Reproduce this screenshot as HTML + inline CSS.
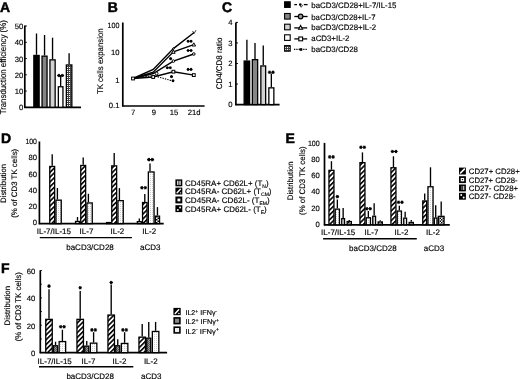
<!DOCTYPE html><html><head><meta charset="utf-8"><style>
html,body{margin:0;padding:0;background:#fff;}
svg{display:block;will-change:transform;filter:blur(0.3px);}
text{text-rendering:geometricPrecision;font-family:"Liberation Sans", sans-serif;fill:#000;}
</style></head><body>
<svg width="520" height="379" viewBox="0 0 520 379">
<defs>
<pattern id="hatch" width="3.4" height="3.4" patternUnits="userSpaceOnUse" patternTransform="rotate(45)">
<rect width="3.4" height="3.4" fill="#fff"/><rect x="0" y="0" width="1.6" height="3.4" fill="#000"/></pattern>
<pattern id="dots" width="2" height="2" patternUnits="userSpaceOnUse">
<rect width="2" height="2" fill="#fff"/><rect x="0" y="0" width="1" height="1" fill="#ccc"/></pattern>
<pattern id="vlines" width="2.5" height="2.5" patternUnits="userSpaceOnUse">
<rect width="2.5" height="2.5" fill="#fff"/><rect x="1" y="0" width="0.8" height="2.5" fill="#999"/></pattern>
<pattern id="check" width="3" height="3" patternUnits="userSpaceOnUse">
<rect width="3" height="3" fill="#fff"/><rect x="0" y="0" width="1.5" height="1.5" fill="#000"/><rect x="1.5" y="1.5" width="1.5" height="1.5" fill="#000"/></pattern>
<pattern id="dcheck" width="2" height="2" patternUnits="userSpaceOnUse">
<rect width="2" height="2" fill="#555"/><rect x="0" y="0" width="1" height="1" fill="#999"/><rect x="1" y="1" width="1" height="1" fill="#999"/></pattern>
<pattern id="grid" width="2" height="2" patternUnits="userSpaceOnUse">
<rect width="2" height="2" fill="#fff"/><rect x="0" y="0" width="2" height="1" fill="#444"/><rect x="0" y="0" width="1" height="2" fill="#444"/></pattern>
</defs>
<rect width="520" height="379" fill="#fff"/>

<text x="0" y="12.01" font-size="14" text-anchor="start" font-weight="bold" stroke="#000" stroke-width="0.5">A</text>
<line x1="24.8" y1="25.5" x2="24.8" y2="107.89999999999999" stroke="#000" stroke-width="1.7"/>
<line x1="24.2" y1="107.3" x2="81" y2="107.3" stroke="#000" stroke-width="1.7"/>
<line x1="24.8" y1="107.3" x2="26.8" y2="107.3" stroke="#000" stroke-width="1"/>
<text x="23.3" y="110.26" font-size="7.7" text-anchor="end" stroke="#000" stroke-width="0.15">0</text>
<line x1="24.8" y1="91.05" x2="26.8" y2="91.05" stroke="#000" stroke-width="1"/>
<text x="23.3" y="94.01" font-size="7.7" text-anchor="end" stroke="#000" stroke-width="0.15">10</text>
<line x1="24.8" y1="74.8" x2="26.8" y2="74.8" stroke="#000" stroke-width="1"/>
<text x="23.3" y="77.76" font-size="7.7" text-anchor="end" stroke="#000" stroke-width="0.15">20</text>
<line x1="24.8" y1="58.55" x2="26.8" y2="58.55" stroke="#000" stroke-width="1"/>
<text x="23.3" y="61.51" font-size="7.7" text-anchor="end" stroke="#000" stroke-width="0.15">30</text>
<line x1="24.8" y1="42.3" x2="26.8" y2="42.3" stroke="#000" stroke-width="1"/>
<text x="23.3" y="45.26" font-size="7.7" text-anchor="end" stroke="#000" stroke-width="0.15">40</text>
<line x1="24.8" y1="26.049999999999997" x2="26.8" y2="26.049999999999997" stroke="#000" stroke-width="1"/>
<text x="23.3" y="29.01" font-size="7.7" text-anchor="end" stroke="#000" stroke-width="0.15">50</text>
<text transform="translate(5.90,67.3) rotate(-90)" x="0" y="0" font-size="8.7" text-anchor="middle" stroke="#000" stroke-width="0.15" textLength="94.1" lengthAdjust="spacingAndGlyphs">Transduction efficiency (%)</text>
<line x1="36.5" y1="33.5" x2="36.5" y2="54.8" stroke="#000" stroke-width="1.35"/>
<rect x="33.85" y="55.45" width="5.30" height="51.85" fill="#000" stroke="#000" stroke-width="1.3"/>
<line x1="44.55" y1="35" x2="44.55" y2="55.5" stroke="#000" stroke-width="1.35"/>
<rect x="42.05" y="56.15" width="5.00" height="51.15" fill="#858585" stroke="#000" stroke-width="1.3"/>
<line x1="52.55" y1="37.7" x2="52.55" y2="59.2" stroke="#000" stroke-width="1.35"/>
<rect x="49.95" y="59.85" width="5.20" height="47.45" fill="#d2d2d2" stroke="#000" stroke-width="1.3"/>
<line x1="60.650000000000006" y1="76" x2="60.650000000000006" y2="86.1" stroke="#000" stroke-width="1.35"/>
<rect x="58.35" y="86.75" width="4.60" height="20.55" fill="#fff" stroke="#000" stroke-width="1.3"/>
<line x1="69.1" y1="53.2" x2="69.1" y2="64.3" stroke="#000" stroke-width="1.35"/>
<rect x="66.35" y="64.95" width="5.50" height="42.35" fill="url(#grid)" stroke="#000" stroke-width="1.3"/>
<path d="M57.10,75.50h3.50M57.98,73.98l1.75,3.04M59.73,73.98l-1.75,3.04M60.60,75.50h3.50M61.48,73.98l1.75,3.04M63.23,73.98l-1.75,3.04" stroke="#000" stroke-width="1.05" fill="none"/>
<text x="107.7" y="12.31" font-size="14" text-anchor="start" font-weight="bold" stroke="#000" stroke-width="0.5">B</text>
<line x1="122.8" y1="22.5" x2="122.8" y2="106.6" stroke="#000" stroke-width="1.7"/>
<line x1="122.2" y1="106" x2="204.6" y2="106" stroke="#000" stroke-width="1.7"/>
<text x="119.5" y="27.76" font-size="7.7" text-anchor="end" textLength="11.9" lengthAdjust="spacingAndGlyphs" stroke="#000" stroke-width="0.15">100</text>
<text x="119.5" y="54.96" font-size="7.7" text-anchor="end" stroke="#000" stroke-width="0.15">10</text>
<text x="119.5" y="82.76" font-size="7.7" text-anchor="end" stroke="#000" stroke-width="0.15">1</text>
<text x="119.5" y="108.36" font-size="7.7" text-anchor="end" stroke="#000" stroke-width="0.15">0.1</text>
<text transform="translate(103.10,61.25) rotate(-90)" x="0" y="0" font-size="8.3" text-anchor="middle" stroke="#000" stroke-width="0.15" textLength="65.7" lengthAdjust="spacingAndGlyphs">TK cells expansion</text>
<text x="133.2" y="115.26" font-size="7.7" text-anchor="middle" stroke="#000" stroke-width="0.15">7</text>
<text x="154" y="115.26" font-size="7.7" text-anchor="middle" stroke="#000" stroke-width="0.15">9</text>
<text x="174.1" y="115.26" font-size="7.7" text-anchor="middle" stroke="#000" stroke-width="0.15">15</text>
<text x="194.2" y="115.26" font-size="7.7" text-anchor="middle" stroke="#000" stroke-width="0.15">21d</text>
<polyline points="133,78.5 153.2,69.4 173.4,48.6 193.8,32.8" fill="none" stroke="#000" stroke-width="1.4"/>
<polyline points="133,78.5 153.2,72.2 173.4,51.8 193.8,44.6" fill="none" stroke="#000" stroke-width="1.4"/>
<polyline points="133,78.5 153.2,73.5 173.4,61.1 193.8,54" fill="none" stroke="#000" stroke-width="1.4"/>
<polyline points="133,78.5 153.2,77 173.4,71.7 193.8,75.1" fill="none" stroke="#000" stroke-width="1.4"/>
<polyline points="133,78.5 153.2,75.5 171,80.5" fill="none" stroke="#000" stroke-width="1.1" stroke-dasharray="1.4,1.1"/>
<rect x="131.6" y="77.1" width="2.8" height="2.8" fill="#fff" stroke="#000" stroke-width="1"/>
<rect x="151.8" y="75.6" width="2.8" height="2.8" fill="#fff" stroke="#000" stroke-width="1"/>
<rect x="172.0" y="70.3" width="2.8" height="2.8" fill="#fff" stroke="#000" stroke-width="1"/>
<rect x="192.4" y="73.7" width="2.8" height="2.8" fill="#fff" stroke="#000" stroke-width="1"/>
<circle cx="173.4" cy="61.1" r="1.3" fill="#fff" stroke="#000" stroke-width="1"/>
<circle cx="193.8" cy="54" r="1.3" fill="#fff" stroke="#000" stroke-width="1"/>
<circle cx="156.6" cy="73.5" r="1.4" fill="#fff" stroke="#000" stroke-width="1"/>
<path d="M193.8,42.800000000000004 L195.60000000000002,46.0 L192.0,46.0 Z" fill="#fff" stroke="#000" stroke-width="1"/>
<path d="M173.4,50.1 L175.20000000000002,53.3 L171.6,53.3 Z" fill="#fff" stroke="#000" stroke-width="1"/>
<circle cx="173.4" cy="48.6" r="0.8" fill="#fff" stroke="#000" stroke-width="1"/>
<path d="M192.6,31 L194,33.6 L196,30.2" fill="none" stroke="#000" stroke-width="0.8"/>
<path d="M186.60,41.20h3.00M187.35,39.90l1.50,2.61M188.85,39.90l-1.50,2.61M189.60,41.20h3.00M190.35,39.90l1.50,2.61M191.85,39.90l-1.50,2.61" stroke="#000" stroke-width="1.05" fill="none"/>
<path d="M186.60,50.50h3.00M187.35,49.20l1.50,2.61M188.85,49.20l-1.50,2.61M189.60,50.50h3.00M190.35,49.20l1.50,2.61M191.85,49.20l-1.50,2.61" stroke="#000" stroke-width="1.05" fill="none"/>
<path d="M186.60,69.40h3.00M187.35,68.09l1.50,2.61M188.85,68.09l-1.50,2.61M189.60,69.40h3.00M190.35,68.09l1.50,2.61M191.85,68.09l-1.50,2.61" stroke="#000" stroke-width="1.05" fill="none"/>
<path d="M165.80,67.80h3.00M166.55,66.49l1.50,2.61M168.05,66.49l-1.50,2.61M168.80,67.80h3.00M169.55,66.49l1.50,2.61M171.05,66.49l-1.50,2.61" stroke="#000" stroke-width="1.05" fill="none"/>
<path d="M170.00,76.60h3.00M170.75,75.29l1.50,2.61M172.25,75.29l-1.50,2.61" stroke="#000" stroke-width="1.05" fill="none"/>
<path d="M169.10,58.60h3.00M169.85,57.30l1.50,2.61M171.35,57.30l-1.50,2.61" stroke="#000" stroke-width="1.05" fill="none"/>
<path d="M171.50,80.80h3.00M172.25,79.49l1.50,2.61M173.75,79.49l-1.50,2.61" stroke="#000" stroke-width="1.05" fill="none"/>
<text x="222" y="12.31" font-size="14" text-anchor="start" font-weight="bold" stroke="#000" stroke-width="0.5">C</text>
<line x1="235.9" y1="22.4" x2="235.9" y2="105.19999999999999" stroke="#000" stroke-width="1.7"/>
<line x1="235.3" y1="104.6" x2="279.6" y2="104.6" stroke="#000" stroke-width="1.7"/>
<line x1="235.9" y1="104.6" x2="237.9" y2="104.6" stroke="#000" stroke-width="1"/>
<text x="232.6" y="107.36" font-size="7.7" text-anchor="end" stroke="#000" stroke-width="0.15">0</text>
<line x1="235.9" y1="84.05" x2="237.9" y2="84.05" stroke="#000" stroke-width="1"/>
<text x="232.6" y="86.81" font-size="7.7" text-anchor="end" stroke="#000" stroke-width="0.15">1</text>
<line x1="235.9" y1="63.49999999999999" x2="237.9" y2="63.49999999999999" stroke="#000" stroke-width="1"/>
<text x="232.6" y="66.26" font-size="7.7" text-anchor="end" stroke="#000" stroke-width="0.15">2</text>
<line x1="235.9" y1="42.94999999999999" x2="237.9" y2="42.94999999999999" stroke="#000" stroke-width="1"/>
<text x="232.6" y="45.71" font-size="7.7" text-anchor="end" stroke="#000" stroke-width="0.15">3</text>
<line x1="235.9" y1="22.39999999999999" x2="237.9" y2="22.39999999999999" stroke="#000" stroke-width="1"/>
<text x="232.6" y="25.16" font-size="7.7" text-anchor="end" stroke="#000" stroke-width="0.15">4</text>
<text transform="translate(222.40,63.45) rotate(-90)" x="0" y="0" font-size="8.2" text-anchor="middle" stroke="#000" stroke-width="0.15" textLength="51.7" lengthAdjust="spacingAndGlyphs">CD4/CD8 ratio</text>
<line x1="246.9" y1="39.8" x2="246.9" y2="60.4" stroke="#000" stroke-width="1.35"/>
<rect x="244.15" y="61.05" width="5.50" height="43.55" fill="#000" stroke="#000" stroke-width="1.3"/>
<line x1="255.0" y1="43" x2="255.0" y2="59" stroke="#000" stroke-width="1.35"/>
<rect x="252.35" y="59.65" width="5.30" height="44.95" fill="#858585" stroke="#000" stroke-width="1.3"/>
<line x1="263.25" y1="45.6" x2="263.25" y2="65.3" stroke="#000" stroke-width="1.35"/>
<rect x="260.85" y="65.95" width="4.80" height="38.65" fill="#d2d2d2" stroke="#000" stroke-width="1.3"/>
<line x1="271.35" y1="73.5" x2="271.35" y2="87.2" stroke="#000" stroke-width="1.35"/>
<rect x="268.85" y="87.85" width="5.00" height="16.75" fill="#fff" stroke="#000" stroke-width="1.3"/>
<path d="M267.80,72.20h3.50M268.68,70.68l1.75,3.04M270.43,70.68l-1.75,3.04M271.30,72.20h3.50M272.18,70.68l1.75,3.04M273.93,70.68l-1.75,3.04" stroke="#000" stroke-width="1.05" fill="none"/>
<rect x="284.6" y="1.8" width="5.6" height="5.6" fill="#000" stroke="#000" stroke-width="1.1"/>
<text x="311.3" y="7.93" font-size="7.9" text-anchor="start" textLength="85.2" lengthAdjust="spacingAndGlyphs" stroke="#000" stroke-width="0.15">baCD3/CD28+IL-7/IL-15</text>
<rect x="284.6" y="13.5" width="5.6" height="5.6" fill="#858585" stroke="#000" stroke-width="1.1"/>
<text x="311.3" y="19.63" font-size="7.9" text-anchor="start" textLength="64.2" lengthAdjust="spacingAndGlyphs" stroke="#000" stroke-width="0.15">baCD3/CD28+IL-7</text>
<rect x="284.6" y="24.2" width="5.6" height="5.6" fill="#d2d2d2" stroke="#000" stroke-width="1.1"/>
<text x="311.3" y="30.33" font-size="7.9" text-anchor="start" textLength="64.9" lengthAdjust="spacingAndGlyphs" stroke="#000" stroke-width="0.15">baCD3/CD28+IL-2</text>
<rect x="284.6" y="34.8" width="5.6" height="5.6" fill="#fff" stroke="#000" stroke-width="1.1"/>
<text x="311.3" y="40.93" font-size="7.9" text-anchor="start" textLength="38.2" lengthAdjust="spacingAndGlyphs" stroke="#000" stroke-width="0.15">aCD3+IL-2</text>
<rect x="284.6" y="45.6" width="5.6" height="5.6" fill="url(#grid)" stroke="#000" stroke-width="1.1"/>
<text x="311.3" y="51.73" font-size="7.9" text-anchor="start" textLength="46.7" lengthAdjust="spacingAndGlyphs" stroke="#000" stroke-width="0.15">baCD3/CD28</text>
<line x1="294.3" y1="4.6" x2="297" y2="4.6" stroke="#000" stroke-width="1.3"/>
<circle cx="300.3" cy="4.6" r="1.3" fill="#000"/>
<line x1="303.8" y1="4.6" x2="307.6" y2="4.6" stroke="#000" stroke-width="1.3"/>
<path d="M300,5.5 L301.2,7.3 L302.8,5" fill="none" stroke="#000" stroke-width="0.7"/>
<line x1="294.3" y1="16.5" x2="307.6" y2="16.5" stroke="#000" stroke-width="1.3"/>
<circle cx="300.6" cy="16.5" r="2.3" fill="#999" stroke="#000" stroke-width="1.2"/>
<line x1="294.3" y1="27.9" x2="307.2" y2="27.9" stroke="#000" stroke-width="1.3"/>
<path d="M300.6,25.4 L302.6,29.3 L298.6,29.3 Z" fill="#fff" stroke="#000" stroke-width="1.1"/>
<line x1="294.3" y1="38.9" x2="307.2" y2="38.9" stroke="#000" stroke-width="1.3"/>
<rect x="298.8" y="37" width="3.8" height="3.8" fill="#fff" stroke="#000" stroke-width="1.1"/>
<line x1="294" y1="49.4" x2="307.2" y2="49.4" stroke="#000" stroke-width="1.1" stroke-dasharray="1.3,1"/>
<rect x="299.6" y="48.2" width="2.6" height="2.6" fill="#000"/>
<text x="1.1" y="142.61" font-size="14" text-anchor="start" font-weight="bold" stroke="#000" stroke-width="0.5">D</text>
<line x1="39.4" y1="141.5" x2="39.4" y2="224.2" stroke="#000" stroke-width="1.7"/>
<line x1="38.8" y1="223.6" x2="163.7" y2="223.6" stroke="#000" stroke-width="1.7"/>
<text x="37" y="225.16" font-size="7.7" text-anchor="end" stroke="#000" stroke-width="0.15">0</text>
<text x="37" y="208.96" font-size="7.7" text-anchor="end" stroke="#000" stroke-width="0.15">20</text>
<text x="37" y="192.76" font-size="7.7" text-anchor="end" stroke="#000" stroke-width="0.15">40</text>
<text x="37" y="176.56" font-size="7.7" text-anchor="end" stroke="#000" stroke-width="0.15">60</text>
<text x="37" y="160.36" font-size="7.7" text-anchor="end" stroke="#000" stroke-width="0.15">80</text>
<text x="37" y="144.16" font-size="7.7" text-anchor="end" textLength="11.6" lengthAdjust="spacingAndGlyphs" stroke="#000" stroke-width="0.15">100</text>
<text transform="translate(5.90,183.4) rotate(-90)" x="0" y="0" font-size="7.9" text-anchor="middle" stroke="#000" stroke-width="0.15" textLength="39.2" lengthAdjust="spacingAndGlyphs">Distribution</text>
<text transform="translate(17.30,183.3) rotate(-90)" x="0" y="0" font-size="7.9" text-anchor="middle" stroke="#000" stroke-width="0.15" textLength="69" lengthAdjust="spacingAndGlyphs">(% of CD3 TK cells)</text>
<line x1="52.2" y1="154.2" x2="52.2" y2="165.8" stroke="#000" stroke-width="1.35"/>
<rect x="49.75" y="166.45" width="4.90" height="57.15" fill="url(#hatch)" stroke="#000" stroke-width="1.3"/>
<line x1="57.400000000000006" y1="188" x2="57.400000000000006" y2="199.5" stroke="#000" stroke-width="1.35"/>
<rect x="55.95" y="200.15" width="5.30" height="23.45" fill="url(#dots)" stroke="#000" stroke-width="1.3"/>
<line x1="77.5" y1="217" x2="77.5" y2="220.8" stroke="#000" stroke-width="1.35"/>
<rect x="75.55" y="221.45" width="3.90" height="2.15" fill="url(#vlines)" stroke="#000" stroke-width="1.3"/>
<line x1="83.19999999999999" y1="157.4" x2="83.19999999999999" y2="164.8" stroke="#000" stroke-width="1.35"/>
<rect x="80.75" y="165.45" width="4.90" height="58.15" fill="url(#hatch)" stroke="#000" stroke-width="1.3"/>
<line x1="88.39999999999999" y1="193.8" x2="88.39999999999999" y2="202.3" stroke="#000" stroke-width="1.35"/>
<rect x="86.95" y="202.95" width="5.30" height="20.65" fill="url(#dots)" stroke="#000" stroke-width="1.3"/>
<rect x="106.55" y="222.55" width="3.90" height="1.05" fill="url(#vlines)" stroke="#000" stroke-width="1.3"/>
<line x1="114.19999999999999" y1="152.9" x2="114.19999999999999" y2="165.2" stroke="#000" stroke-width="1.35"/>
<rect x="111.75" y="165.85" width="4.90" height="57.75" fill="url(#hatch)" stroke="#000" stroke-width="1.3"/>
<line x1="119.39999999999999" y1="188.1" x2="119.39999999999999" y2="200" stroke="#000" stroke-width="1.35"/>
<rect x="117.95" y="200.65" width="5.30" height="22.95" fill="url(#dots)" stroke="#000" stroke-width="1.3"/>
<line x1="139.3" y1="218.5" x2="139.3" y2="221" stroke="#000" stroke-width="1.35"/>
<rect x="137.35" y="221.65" width="3.90" height="1.95" fill="url(#vlines)" stroke="#000" stroke-width="1.3"/>
<line x1="144.8" y1="194" x2="144.8" y2="201.9" stroke="#000" stroke-width="1.35"/>
<rect x="142.55" y="202.55" width="4.50" height="21.05" fill="url(#hatch)" stroke="#000" stroke-width="1.3"/>
<line x1="150.00000000000003" y1="163.5" x2="150.00000000000003" y2="171.3" stroke="#000" stroke-width="1.35"/>
<rect x="148.35" y="171.95" width="5.70" height="51.65" fill="url(#dots)" stroke="#000" stroke-width="1.3"/>
<line x1="157.45000000000002" y1="207.1" x2="157.45000000000002" y2="215.5" stroke="#000" stroke-width="1.35"/>
<rect x="155.35" y="216.15" width="4.20" height="7.45" fill="url(#check)" stroke="#000" stroke-width="1.3"/>
<path d="M140.10,187.80h3.50M140.97,186.28l1.75,3.04M142.72,186.28l-1.75,3.04M143.60,187.80h3.50M144.47,186.28l1.75,3.04M146.22,186.28l-1.75,3.04" stroke="#000" stroke-width="1.05" fill="none"/>
<path d="M147.10,159.60h3.50M147.97,158.08l1.75,3.04M149.72,158.08l-1.75,3.04M150.60,159.60h3.50M151.47,158.08l1.75,3.04M153.22,158.08l-1.75,3.04" stroke="#000" stroke-width="1.05" fill="none"/>
<text x="53.9" y="234.26" font-size="8" text-anchor="middle" stroke="#000" stroke-width="0.15">IL-7/IL-15</text>
<text x="86.5" y="234.26" font-size="8" text-anchor="middle" stroke="#000" stroke-width="0.15">IL-7</text>
<text x="117.4" y="234.26" font-size="8" text-anchor="middle" stroke="#000" stroke-width="0.15">IL-2</text>
<text x="149.2" y="234.26" font-size="8" text-anchor="middle" stroke="#000" stroke-width="0.15">IL-2</text>
<line x1="39.8" y1="237.6" x2="131.9" y2="237.6" stroke="#000" stroke-width="1.4"/>
<text x="90" y="250.16" font-size="8" text-anchor="middle" stroke="#000" stroke-width="0.15">baCD3/CD28</text>
<text x="150.3" y="250.16" font-size="8" text-anchor="middle" stroke="#000" stroke-width="0.15">aCD3</text>
<rect x="175.4" y="179.4" width="6.9" height="6.9" fill="#000"/>
<rect x="177.19" y="180.78" width="1.24" height="4.14" fill="#fff"/>
<rect x="179.40" y="180.78" width="1.24" height="4.14" fill="#fff"/>
<text x="185" y="186.16" font-size="8" text-anchor="start" textLength="83.6" lengthAdjust="spacingAndGlyphs" stroke="#000" stroke-width="0.15">CD45RA+ CD62L+ (T<tspan font-size="5" dy="2">N</tspan><tspan dy="-2">)</tspan></text>
<rect x="175.4" y="187.6" width="6.9" height="6.9" fill="#000"/>
<path d="M177.12,192.78L180.37,189.32" stroke="#fff" stroke-width="1.38" stroke-linecap="round"/>
<circle cx="180.58" cy="192.84" r="0.69" fill="#fff"/>
<text x="185" y="194.36" font-size="8" text-anchor="start" textLength="86.5" lengthAdjust="spacingAndGlyphs" stroke="#000" stroke-width="0.15">CD45RA- CD62L+ (T<tspan font-size="5" dy="2">CM</tspan><tspan dy="-2">)</tspan></text>
<rect x="175.4" y="196.5" width="6.9" height="6.9" fill="#000"/>
<rect x="177.47" y="198.57" width="2.90" height="2.76" fill="#fff"/>
<text x="185" y="203.26" font-size="8" text-anchor="start" textLength="84.7" lengthAdjust="spacingAndGlyphs" stroke="#000" stroke-width="0.15">CD45RA- CD62L- (T<tspan font-size="5" dy="2">EM</tspan><tspan dy="-2">)</tspan></text>
<rect x="175.4" y="205.2" width="6.9" height="6.9" fill="#000"/>
<circle cx="180.09" cy="207.41" r="0.97" fill="#fff"/>
<circle cx="177.81" cy="209.89" r="0.97" fill="#fff"/>
<text x="185" y="211.96" font-size="8" text-anchor="start" textLength="81.7" lengthAdjust="spacingAndGlyphs" stroke="#000" stroke-width="0.15">CD45RA+ CD62L- (T<tspan font-size="5" dy="2">E</tspan><tspan dy="-2">)</tspan></text>
<text x="285.4" y="143.21" font-size="14" text-anchor="start" font-weight="bold" stroke="#000" stroke-width="0.5">E</text>
<line x1="324.5" y1="142.9" x2="324.5" y2="225.4" stroke="#000" stroke-width="1.7"/>
<line x1="323.9" y1="224.8" x2="449.8" y2="224.8" stroke="#000" stroke-width="1.7"/>
<text x="319.8" y="226.96" font-size="7.7" text-anchor="end" stroke="#000" stroke-width="0.15">0</text>
<text x="319.8" y="210.70" font-size="7.7" text-anchor="end" stroke="#000" stroke-width="0.15">20</text>
<text x="319.8" y="194.44" font-size="7.7" text-anchor="end" stroke="#000" stroke-width="0.15">40</text>
<text x="319.8" y="178.18" font-size="7.7" text-anchor="end" stroke="#000" stroke-width="0.15">60</text>
<text x="319.8" y="161.92" font-size="7.7" text-anchor="end" stroke="#000" stroke-width="0.15">80</text>
<text x="319.8" y="145.66" font-size="7.7" text-anchor="end" textLength="11.9" lengthAdjust="spacingAndGlyphs" stroke="#000" stroke-width="0.15">100</text>
<text transform="translate(292.90,180.85) rotate(-90)" x="0" y="0" font-size="8" text-anchor="middle" stroke="#000" stroke-width="0.15" textLength="38.7" lengthAdjust="spacingAndGlyphs">Distribution</text>
<text transform="translate(305.00,180.65) rotate(-90)" x="0" y="0" font-size="8" text-anchor="middle" stroke="#000" stroke-width="0.15" textLength="68.5" lengthAdjust="spacingAndGlyphs">(% of CD3 TK cells)</text>
<line x1="331.45000000000005" y1="161.2" x2="331.45000000000005" y2="169.7" stroke="#000" stroke-width="1.35"/>
<rect x="328.95" y="170.35" width="5.00" height="54.45" fill="url(#hatch)" stroke="#000" stroke-width="1.3"/>
<line x1="337.35" y1="199.5" x2="337.35" y2="208.5" stroke="#000" stroke-width="1.35"/>
<rect x="335.25" y="209.15" width="4.20" height="15.65" fill="url(#dots)" stroke="#000" stroke-width="1.3"/>
<line x1="343.15" y1="208" x2="343.15" y2="218" stroke="#000" stroke-width="1.35"/>
<rect x="341.75" y="218.65" width="2.80" height="6.15" fill="url(#vlines)" stroke="#000" stroke-width="1.3"/>
<line x1="349.25" y1="219.9" x2="349.25" y2="220.9" stroke="#000" stroke-width="1.35"/>
<rect x="347.15" y="221.55" width="4.20" height="3.25" fill="url(#check)" stroke="#000" stroke-width="1.3"/>
<line x1="362.45000000000005" y1="152.4" x2="362.45000000000005" y2="162" stroke="#000" stroke-width="1.35"/>
<rect x="359.95" y="162.65" width="5.00" height="62.15" fill="url(#hatch)" stroke="#000" stroke-width="1.3"/>
<line x1="368.35" y1="211" x2="368.35" y2="217.1" stroke="#000" stroke-width="1.35"/>
<rect x="366.25" y="217.75" width="4.20" height="7.05" fill="url(#dots)" stroke="#000" stroke-width="1.3"/>
<line x1="374.15" y1="203.3" x2="374.15" y2="215.6" stroke="#000" stroke-width="1.35"/>
<rect x="372.75" y="216.25" width="2.80" height="8.55" fill="url(#vlines)" stroke="#000" stroke-width="1.3"/>
<line x1="380.25" y1="220.3" x2="380.25" y2="221.3" stroke="#000" stroke-width="1.35"/>
<rect x="378.15" y="221.95" width="4.20" height="2.85" fill="url(#check)" stroke="#000" stroke-width="1.3"/>
<line x1="393.45000000000005" y1="156.3" x2="393.45000000000005" y2="167.1" stroke="#000" stroke-width="1.35"/>
<rect x="390.95" y="167.75" width="5.00" height="57.05" fill="url(#hatch)" stroke="#000" stroke-width="1.3"/>
<line x1="399.35" y1="205.7" x2="399.35" y2="210.4" stroke="#000" stroke-width="1.35"/>
<rect x="397.25" y="211.05" width="4.20" height="13.75" fill="url(#dots)" stroke="#000" stroke-width="1.3"/>
<line x1="405.15" y1="211.8" x2="405.15" y2="217.5" stroke="#000" stroke-width="1.35"/>
<rect x="403.75" y="218.15" width="2.80" height="6.65" fill="url(#vlines)" stroke="#000" stroke-width="1.3"/>
<line x1="411.25" y1="219.9" x2="411.25" y2="221.8" stroke="#000" stroke-width="1.35"/>
<rect x="409.15" y="222.45" width="4.20" height="2.35" fill="url(#check)" stroke="#000" stroke-width="1.3"/>
<line x1="424.70000000000005" y1="193.4" x2="424.70000000000005" y2="200.3" stroke="#000" stroke-width="1.35"/>
<rect x="422.75" y="200.95" width="3.90" height="23.85" fill="url(#hatch)" stroke="#000" stroke-width="1.3"/>
<line x1="430.5" y1="167.3" x2="430.5" y2="186.1" stroke="#000" stroke-width="1.35"/>
<rect x="427.95" y="186.75" width="5.10" height="38.05" fill="url(#dots)" stroke="#000" stroke-width="1.3"/>
<line x1="435.70000000000005" y1="205.2" x2="435.70000000000005" y2="217.4" stroke="#000" stroke-width="1.35"/>
<rect x="434.35" y="218.05" width="2.70" height="6.75" fill="url(#vlines)" stroke="#000" stroke-width="1.3"/>
<line x1="441.20000000000005" y1="201.4" x2="441.20000000000005" y2="215.7" stroke="#000" stroke-width="1.35"/>
<rect x="438.35" y="216.35" width="5.70" height="8.45" fill="url(#check)" stroke="#000" stroke-width="1.3"/>
<path d="M327.90,156.90h3.50M328.77,155.38l1.75,3.04M330.52,155.38l-1.75,3.04M331.40,156.90h3.50M332.27,155.38l1.75,3.04M334.02,155.38l-1.75,3.04" stroke="#000" stroke-width="1.05" fill="none"/>
<path d="M335.65,196.60h3.50M336.52,195.08l1.75,3.04M338.27,195.08l-1.75,3.04" stroke="#000" stroke-width="1.05" fill="none"/>
<path d="M359.10,147.20h3.50M359.98,145.68l1.75,3.04M361.73,145.68l-1.75,3.04M362.60,147.20h3.50M363.48,145.68l1.75,3.04M365.23,145.68l-1.75,3.04" stroke="#000" stroke-width="1.05" fill="none"/>
<path d="M365.00,208.80h3.50M365.88,207.28l1.75,3.04M367.62,207.28l-1.75,3.04M368.50,208.80h3.50M369.38,207.28l1.75,3.04M371.12,207.28l-1.75,3.04" stroke="#000" stroke-width="1.05" fill="none"/>
<path d="M390.70,151.50h3.50M391.57,149.98l1.75,3.04M393.32,149.98l-1.75,3.04M394.20,151.50h3.50M395.07,149.98l1.75,3.04M396.82,149.98l-1.75,3.04" stroke="#000" stroke-width="1.05" fill="none"/>
<path d="M396.80,202.30h3.50M397.68,200.78l1.75,3.04M399.43,200.78l-1.75,3.04M400.30,202.30h3.50M401.18,200.78l1.75,3.04M402.93,200.78l-1.75,3.04" stroke="#000" stroke-width="1.05" fill="none"/>
<text x="338.2" y="235.46" font-size="8" text-anchor="middle" stroke="#000" stroke-width="0.15">IL-7/IL-15</text>
<text x="371.5" y="235.46" font-size="8" text-anchor="middle" stroke="#000" stroke-width="0.15">IL-7</text>
<text x="401.5" y="235.46" font-size="8" text-anchor="middle" stroke="#000" stroke-width="0.15">IL-2</text>
<text x="433" y="235.46" font-size="8" text-anchor="middle" stroke="#000" stroke-width="0.15">IL-2</text>
<line x1="323.1" y1="238.7" x2="416.8" y2="238.7" stroke="#000" stroke-width="1.4"/>
<text x="372.9" y="250.86" font-size="8" text-anchor="middle" stroke="#000" stroke-width="0.15">baCD3/CD28</text>
<text x="434.1" y="250.86" font-size="8" text-anchor="middle" stroke="#000" stroke-width="0.15">aCD3</text>
<rect x="459" y="167.6" width="6.9" height="6.9" fill="#000"/>
<path d="M460.52,172.98L464.38,169.12" stroke="#fff" stroke-width="1.66" stroke-linecap="round"/>
<text x="468.8" y="174.13" font-size="7.9" text-anchor="start" textLength="50.9" lengthAdjust="spacingAndGlyphs" stroke="#000" stroke-width="0.15">CD27+ CD28+</text>
<rect x="459" y="176.2" width="6.9" height="6.9" fill="#000"/>
<rect x="460.73" y="177.92" width="3.45" height="3.45" fill="#fff"/>
<rect x="461.76" y="179.10" width="1.38" height="1.03" fill="#000"/>
<text x="468.8" y="182.73" font-size="7.9" text-anchor="start" textLength="48.8" lengthAdjust="spacingAndGlyphs" stroke="#000" stroke-width="0.15">CD27+ CD28-</text>
<rect x="459" y="184.5" width="6.9" height="6.9" fill="#000"/>
<rect x="461.42" y="185.88" width="0.97" height="4.14" fill="#888"/>
<rect x="463.28" y="185.88" width="0.97" height="4.14" fill="#fff"/>
<text x="468.8" y="191.03" font-size="7.9" text-anchor="start" textLength="49.3" lengthAdjust="spacingAndGlyphs" stroke="#000" stroke-width="0.15">CD27- CD28+</text>
<rect x="459" y="192.8" width="6.9" height="6.9" fill="#000"/>
<circle cx="461.21" cy="195.01" r="0.97" fill="#fff"/>
<circle cx="463.69" cy="197.49" r="0.97" fill="#fff"/>
<text x="468.8" y="199.33" font-size="7.9" text-anchor="start" textLength="46.7" lengthAdjust="spacingAndGlyphs" stroke="#000" stroke-width="0.15">CD27- CD28-</text>
<text x="1.1" y="273.41" font-size="14" text-anchor="start" font-weight="bold" stroke="#000" stroke-width="0.5">F</text>
<line x1="40.3" y1="270.3" x2="40.3" y2="353.20000000000005" stroke="#000" stroke-width="1.7"/>
<line x1="39.699999999999996" y1="352.6" x2="167.1" y2="352.6" stroke="#000" stroke-width="1.7"/>
<line x1="40.3" y1="352.6" x2="41.9" y2="352.6" stroke="#000" stroke-width="0.9"/>
<line x1="40.3" y1="338.92" x2="41.9" y2="338.92" stroke="#000" stroke-width="0.9"/>
<line x1="40.3" y1="325.24" x2="41.9" y2="325.24" stroke="#000" stroke-width="0.9"/>
<line x1="40.3" y1="311.56" x2="41.9" y2="311.56" stroke="#000" stroke-width="0.9"/>
<line x1="40.3" y1="297.88" x2="41.9" y2="297.88" stroke="#000" stroke-width="0.9"/>
<line x1="40.3" y1="284.20000000000005" x2="41.9" y2="284.20000000000005" stroke="#000" stroke-width="0.9"/>
<line x1="40.3" y1="270.52000000000004" x2="41.9" y2="270.52000000000004" stroke="#000" stroke-width="0.9"/>
<text x="35.3" y="356.16" font-size="7.7" text-anchor="end" stroke="#000" stroke-width="0.15">0</text>
<text x="35.3" y="328.80" font-size="7.7" text-anchor="end" stroke="#000" stroke-width="0.15">20</text>
<text x="35.3" y="301.44" font-size="7.7" text-anchor="end" stroke="#000" stroke-width="0.15">40</text>
<text x="35.3" y="274.08" font-size="7.7" text-anchor="end" stroke="#000" stroke-width="0.15">60</text>
<text transform="translate(9.90,305.7) rotate(-90)" x="0" y="0" font-size="8" text-anchor="middle" stroke="#000" stroke-width="0.15" textLength="39.4" lengthAdjust="spacingAndGlyphs">Distribution</text>
<text transform="translate(21.00,306.7) rotate(-90)" x="0" y="0" font-size="8.2" text-anchor="middle" stroke="#000" stroke-width="0.15" textLength="69.2" lengthAdjust="spacingAndGlyphs">(% of CD3 TK cells)</text>
<line x1="49.0" y1="289.3" x2="49.0" y2="318.7" stroke="#000" stroke-width="1.35"/>
<rect x="45.75" y="319.35" width="6.50" height="33.25" fill="url(#hatch)" stroke="#000" stroke-width="1.3"/>
<line x1="55.55" y1="341.7" x2="55.55" y2="345.1" stroke="#000" stroke-width="1.35"/>
<rect x="53.55" y="345.75" width="4.00" height="6.85" fill="url(#dcheck)" stroke="#000" stroke-width="1.3"/>
<line x1="62.4" y1="329.8" x2="62.4" y2="340.9" stroke="#000" stroke-width="1.35"/>
<rect x="59.15" y="341.55" width="6.50" height="11.05" fill="url(#dots)" stroke="#000" stroke-width="1.3"/>
<line x1="80.19999999999999" y1="290.9" x2="80.19999999999999" y2="318.7" stroke="#000" stroke-width="1.35"/>
<rect x="76.95" y="319.35" width="6.50" height="33.25" fill="url(#hatch)" stroke="#000" stroke-width="1.3"/>
<line x1="86.75" y1="341" x2="86.75" y2="345.5" stroke="#000" stroke-width="1.35"/>
<rect x="84.75" y="346.15" width="4.00" height="6.45" fill="url(#dcheck)" stroke="#000" stroke-width="1.3"/>
<line x1="93.6" y1="332.2" x2="93.6" y2="342.5" stroke="#000" stroke-width="1.35"/>
<rect x="90.35" y="343.15" width="6.50" height="9.45" fill="url(#dots)" stroke="#000" stroke-width="1.3"/>
<line x1="111.19999999999999" y1="284.5" x2="111.19999999999999" y2="314.4" stroke="#000" stroke-width="1.35"/>
<rect x="107.95" y="315.05" width="6.50" height="37.55" fill="url(#hatch)" stroke="#000" stroke-width="1.3"/>
<line x1="117.75" y1="339.3" x2="117.75" y2="345.1" stroke="#000" stroke-width="1.35"/>
<rect x="115.75" y="345.75" width="4.00" height="6.85" fill="url(#dcheck)" stroke="#000" stroke-width="1.3"/>
<line x1="124.6" y1="332.2" x2="124.6" y2="342.8" stroke="#000" stroke-width="1.35"/>
<rect x="121.35" y="343.45" width="6.50" height="9.15" fill="url(#dots)" stroke="#000" stroke-width="1.3"/>
<line x1="142.20000000000002" y1="324" x2="142.20000000000002" y2="336.5" stroke="#000" stroke-width="1.35"/>
<rect x="138.95" y="337.15" width="6.50" height="15.45" fill="url(#hatch)" stroke="#000" stroke-width="1.3"/>
<line x1="148.75" y1="321.9" x2="148.75" y2="337.5" stroke="#000" stroke-width="1.35"/>
<rect x="146.75" y="338.15" width="4.00" height="14.45" fill="url(#dcheck)" stroke="#000" stroke-width="1.3"/>
<line x1="155.60000000000002" y1="321.9" x2="155.60000000000002" y2="330.8" stroke="#000" stroke-width="1.35"/>
<rect x="152.35" y="331.45" width="6.50" height="21.15" fill="url(#dots)" stroke="#000" stroke-width="1.3"/>
<path d="M47.25,286.10h3.50M48.12,284.58l1.75,3.04M49.88,284.58l-1.75,3.04" stroke="#000" stroke-width="1.05" fill="none"/>
<path d="M58.90,326.80h3.50M59.78,325.28l1.75,3.04M61.53,325.28l-1.75,3.04M62.40,326.80h3.50M63.28,325.28l1.75,3.04M65.03,325.28l-1.75,3.04" stroke="#000" stroke-width="1.05" fill="none"/>
<path d="M78.45,287.70h3.50M79.33,286.18l1.75,3.04M81.08,286.18l-1.75,3.04" stroke="#000" stroke-width="1.05" fill="none"/>
<path d="M90.10,329.90h3.50M90.97,328.38l1.75,3.04M92.72,328.38l-1.75,3.04M93.60,329.90h3.50M94.47,328.38l1.75,3.04M96.22,328.38l-1.75,3.04" stroke="#000" stroke-width="1.05" fill="none"/>
<path d="M109.45,282.50h3.50M110.33,280.98l1.75,3.04M112.08,280.98l-1.75,3.04" stroke="#000" stroke-width="1.05" fill="none"/>
<path d="M121.10,329.90h3.50M121.97,328.38l1.75,3.04M123.72,328.38l-1.75,3.04M124.60,329.90h3.50M125.47,328.38l1.75,3.04M127.22,328.38l-1.75,3.04" stroke="#000" stroke-width="1.05" fill="none"/>
<text x="54.7" y="364.06" font-size="8" text-anchor="middle" stroke="#000" stroke-width="0.15">IL-7/IL-15</text>
<text x="88.5" y="364.06" font-size="8" text-anchor="middle" stroke="#000" stroke-width="0.15">IL-7</text>
<text x="119.5" y="364.06" font-size="8" text-anchor="middle" stroke="#000" stroke-width="0.15">IL-2</text>
<text x="150.8" y="364.06" font-size="8" text-anchor="middle" stroke="#000" stroke-width="0.15">IL-2</text>
<line x1="39" y1="366.7" x2="133.3" y2="366.7" stroke="#000" stroke-width="1.4"/>
<text x="90.2" y="378.76" font-size="8" text-anchor="middle" stroke="#000" stroke-width="0.15">baCD3/CD28</text>
<text x="151.2" y="378.76" font-size="8" text-anchor="middle" stroke="#000" stroke-width="0.15">aCD3</text>
<rect x="173.4" y="307.9" width="7.3" height="7.3" fill="#000"/>
<path d="M175.22,313.38L178.66,309.72" stroke="#fff" stroke-width="1.46" stroke-linecap="round"/>
<circle cx="178.88" cy="313.45" r="0.73" fill="#fff"/>
<text x="185.4" y="315.01" font-size="7" text-anchor="start" textLength="31.8" lengthAdjust="spacingAndGlyphs" stroke="#000" stroke-width="0.15">IL2<tspan font-size="5" dy="-2.5">+</tspan><tspan dy="2.5"> IFN&#947;</tspan><tspan font-size="5" dy="-2.5">-</tspan></text>
<rect x="173.4" y="317.1" width="7.3" height="7.3" fill="#000"/>
<rect x="175.01" y="318.71" width="4.09" height="4.09" fill="#888"/>
<text x="185.4" y="324.21" font-size="7" text-anchor="start" textLength="33.6" lengthAdjust="spacingAndGlyphs" stroke="#000" stroke-width="0.15">IL2<tspan font-size="5" dy="-2.5">+</tspan><tspan dy="2.5"> IFN&#947;</tspan><tspan font-size="5" dy="-2.5">+</tspan></text>
<rect x="173.4" y="326.4" width="7.3" height="7.3" fill="#000"/>
<rect x="175.01" y="328.01" width="4.09" height="4.09" fill="#eee"/>
<text x="185.4" y="333.51" font-size="7" text-anchor="start" textLength="33.6" lengthAdjust="spacingAndGlyphs" stroke="#000" stroke-width="0.15">IL2<tspan font-size="5" dy="-2.5">-</tspan><tspan dy="2.5"> IFN&#947;</tspan><tspan font-size="5" dy="-2.5">+</tspan></text>
</svg></body></html>
